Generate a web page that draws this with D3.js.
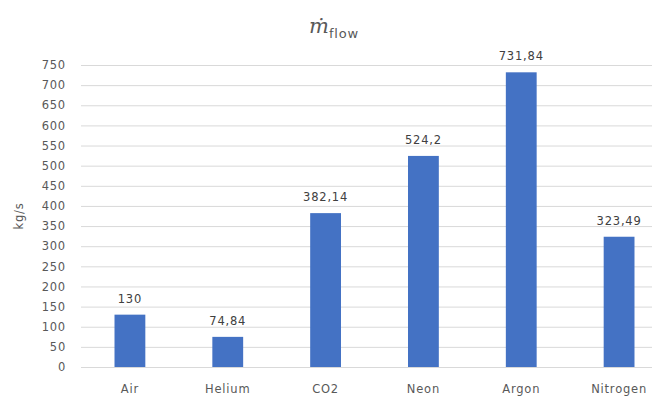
<!DOCTYPE html>
<html><head><meta charset="utf-8">
<script src="https://cdn.jsdelivr.net/npm/d3@7"></script>
<style>body{margin:0;background:#fff;overflow:hidden}svg{display:block}</style>
</head><body>
<svg id="c" width="652" height="396"></svg>
<script>
const categories = ["Air","Helium","CO2","Neon","Argon","Nitrogen"];
const values = [130, 74.84, 382.14, 524.2, 731.84, 323.49];
const valueLabels = ["130","74,84","382,14","524,2","731,84","323,49"];
const yTicks = [0,50,100,150,200,250,300,350,400,450,500,550,600,650,700,750];

(function(){
const svg = d3.select("#c");
const mLeft = 81, mRight = 668, mTop = 65, mBottom = 367;
const x = d3.scaleBand().domain(categories).range([mLeft, mRight]).paddingInner(0.685).paddingOuter(0.3425);
const y = d3.scaleLinear().domain([0,750]).range([mBottom, mTop]);
const font = "'DejaVu Sans', 'Liberation Sans', sans-serif";
const grey = "#595959";
const ls = 0.8;

// gridlines
svg.append("g").selectAll("line").data(yTicks).join("line")
  .attr("x1", mLeft).attr("x2", mRight)
  .attr("y1", d => y(d)+0.5).attr("y2", d => y(d)+0.5)
  .attr("stroke", "#d9d9d9").attr("stroke-width", 1);

// y axis labels
const ya = svg.append("g").attr("transform", `translate(${mLeft},0)`)
  .call(d3.axisLeft(y).tickValues(yTicks).tickSize(0).tickPadding(15));
ya.select(".domain").remove();
ya.selectAll("text").attr("font-family", font).attr("font-size", 11.5).attr("letter-spacing", ls).attr("fill", grey);

// x axis labels
const xa = svg.append("g").attr("transform", `translate(0,${mBottom})`)
  .call(d3.axisBottom(x).tickSize(0).tickPadding(18));
xa.select(".domain").remove();
xa.selectAll("text").attr("font-family", font).attr("font-size", 11.5).attr("letter-spacing", ls).attr("fill", grey);

// bars
svg.append("g").selectAll("rect").data(values).join("rect")
  .attr("x", (d,i) => x(categories[i]))
  .attr("width", x.bandwidth())
  .attr("y", d => y(d))
  .attr("height", d => mBottom - y(d))
  .attr("fill", "#4472C4");

// value labels
svg.append("g").selectAll("text").data(values).join("text")
  .attr("x", (d,i) => x(categories[i]) + x.bandwidth()/2)
  .attr("y", d => y(d) - 12)
  .attr("text-anchor", "middle")
  .attr("font-family", font).attr("font-size", 11.5).attr("letter-spacing", ls).attr("fill", "#404040")
  .text((d,i) => valueLabels[i]);

// y axis title
svg.append("text")
  .attr("transform", "translate(23,216) rotate(-90)")
  .attr("text-anchor", "middle")
  .attr("font-family", font).attr("font-size", 11.5).attr("letter-spacing", ls).attr("fill", grey)
  .text("kg/s");

// chart title
const t = svg.append("text").attr("x", 334).attr("y", 33).attr("text-anchor", "middle").attr("fill", grey);
t.append("tspan").attr("font-family", "'DejaVu Serif', 'Liberation Serif', serif").attr("font-style", "italic").attr("font-size", 21).text("ṁ");
t.append("tspan").attr("font-family", font).attr("font-size", 13).attr("letter-spacing", 0.8).attr("dy", 5).text("flow");
})();
</script>
</body></html>
